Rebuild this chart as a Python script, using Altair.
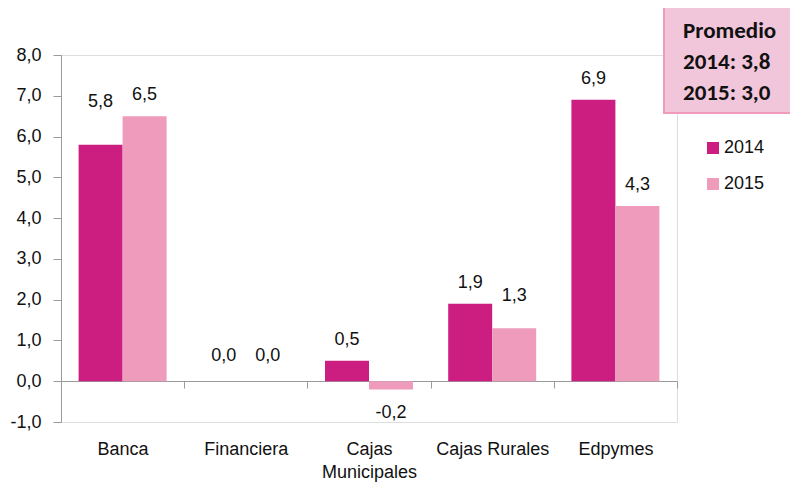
import altair as alt
import pandas as pd

categories = ["Banca", "Financiera", "Cajas Municipales", "Cajas Rurales", "Edpymes"]
years = ["2014", "2015"]
values_2014 = [5.8, 0.0, 0.5, 1.9, 6.9]
values_2015 = [6.5, 0.0, -0.2, 1.3, 4.3]
promedio = {"2014": 3.8, "2015": 3.0}

rows = []
for c, a, b in zip(categories, values_2014, values_2015):
    rows.append({"cat": c, "year": "2014", "v": a})
    rows.append({"cat": c, "year": "2015", "v": b})
df = pd.DataFrame(rows)

FONT = "Liberation Sans Narrow, Arial Narrow, Liberation Sans, Arial"
FS = 18
C14 = "#CC1E80"
C15 = "#EE9BBC"
AXC = "#9a9a9a"

fmt_expr = "replace(replace(format(datum.v, '.1f'), '.', ','), '\u2212', '-')"

x_enc = alt.X("cat:N", sort=categories, scale=alt.Scale(paddingInner=0, paddingOuter=0),
              axis=alt.Axis(title=None, labelAngle=0, tickBand="extent", domainColor=AXC,
                            tickColor=AXC, tickSize=7, offset=-41, labelPadding=52,
                            labelFont=FONT, labelFontSize=FS, labelColor="#111",
                            labelLineHeight=23, labelBaseline="top",
                            labelExpr="datum.label == 'Cajas Municipales' ? ['Cajas', 'Municipales'] : datum.label"))
xo_enc = alt.XOffset("year:N", sort=years, scale=alt.Scale(paddingInner=0, paddingOuter=0.4))
y_enc = alt.Y("v:Q", scale=alt.Scale(domain=[-1, 8], nice=False, zero=False),
              axis=alt.Axis(title=None, values=list(range(-1, 9)), grid=False,
                            domainColor=AXC, tickColor=AXC, tickSize=8, labelPadding=12,
                            labelFont=FONT, labelFontSize=FS, labelColor="#111",
                            labelExpr="replace(replace(format(datum.value, '.1f'), '.', ','), '\u2212', '-')"))

color_enc = alt.Color("year:N", sort=years, scale=alt.Scale(domain=years, range=[C14, C15]),
                      legend=alt.Legend(title=None, orient="none", legendX=643, legendY=84,
                                        symbolType="square", symbolSize=144, symbolStrokeWidth=0,
                                        labelFont=FONT, labelFontSize=FS, labelColor="#111",
                                        labelOffset=2, rowPadding=18, padding=0))

base = alt.Chart(df)

bars = base.mark_bar(size=44).encode(x=x_enc, xOffset=xo_enc, y=y_enc, y2=alt.datum(0), color=color_enc)


def labels(filter_expr, dy):
    return base.transform_filter(filter_expr).transform_calculate(lab=fmt_expr).mark_text(
        font=FONT, fontSize=FS, color="#111", baseline="middle", dy=dy
    ).encode(x=alt.X("cat:N", sort=categories), xOffset=alt.XOffset("year:N", sort=years),
             y="v:Q", text="lab:N")


lab_default = labels("datum.v > 0 && !(datum.cat == 'Banca' && datum.year == '2014') && !(datum.cat == 'Cajas Rurales' && datum.year == '2015')", -21)
lab_banca = labels("datum.cat == 'Banca' && datum.year == '2014'", -43)
lab_rur = labels("datum.cat == 'Cajas Rurales' && datum.year == '2015'", -32)
lab_zero = labels("datum.v == 0", -25)
lab_neg = labels("datum.v < 0", 24)

box = alt.Chart(pd.DataFrame({"k": [0]})).mark_rect(fill="#F2C6DA", stroke=C15, strokeWidth=2).encode(
    x=alt.value(603), x2=alt.value(735), y=alt.value(-48), y2=alt.value(58))
box_text = alt.Chart(pd.DataFrame({"k": [0]})).mark_text(
    text=["Promedio", "2014: " + f"{promedio['2014']:.1f}".replace(".", ","),
          "2015: " + f"{promedio['2015']:.1f}".replace(".", ",")],
    font="Carlito, Lato, Open Sans", fontWeight="bold", fontSize=23, color="#111",
    align="left", baseline="top", lineHeight=31).encode(x=alt.value(622), y=alt.value(-35))

chart = alt.layer(bars, lab_default, lab_banca, lab_rur, lab_zero, lab_neg, box, box_text).properties(
    width=616, height=367,
    autosize=alt.AutoSizeParams(type="none"),
    padding={"left": 53, "top": 47, "right": 113, "bottom": 63},
).configure_view(stroke=None).configure(background="white")

chart.save("out.html", embed_options={"renderer": "svg", "actions": False})
